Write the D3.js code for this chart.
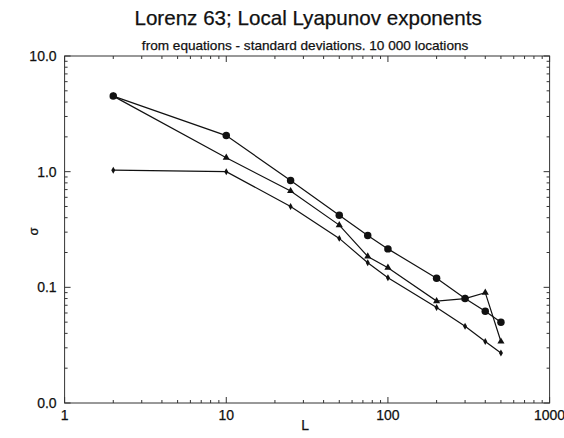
<!DOCTYPE html>
<html>
<head>
<meta charset="utf-8">
<script src="https://cdn.jsdelivr.net/npm/d3@7"></script>
<style>
  html, body { margin: 0; padding: 0; background: #fff; }
  svg text { font-family: "Liberation Sans", Arial, Helvetica, sans-serif; fill: #111; stroke: #111; stroke-width: 0.25; }
</style>
</head>
<body>
<svg id="chart" width="564" height="438"></svg>
<script>
// Window length L and standard deviation of local Lyapunov exponents
const L = [2, 10, 25, 50, 75, 100, 200, 300, 400, 500];
const sigmaCircle   = [4.5, 2.05, 0.84, 0.42, 0.28, 0.215, 0.12, 0.080, 0.062, 0.050];
const sigmaTriangle = [4.5, 1.32, 0.68, 0.345, 0.185, 0.148, 0.076, 0.080, 0.090, 0.034];
const sigmaDiamond  = [1.03, 1.0, 0.50, 0.265, 0.163, 0.121, 0.067, 0.046, 0.034, 0.027];

const xTickValues = [1, 10, 100, 1000];
const xTickLabels = ["1", "10", "100", "1000"];
const yTickValues = [0.01, 0.1, 1, 10];
const yTickLabels = ["0.0", "0.1", "1.0", "10.0"];

const svg = d3.select("#chart");
const m = { left: 64.6, right: 549.6, top: 56, bottom: 403 };

const x = d3.scaleLog().domain([1, 1000]).range([m.left, m.right]);
const y = d3.scaleLog().domain([0.01, 10]).range([m.bottom, m.top]);

// minor ticks 2..9 within each decade
function minorTicks(lo, hi) {
  const out = [];
  for (let e = Math.log10(lo); e < Math.log10(hi); e++) {
    for (let k = 2; k <= 9; k++) out.push(k * Math.pow(10, e));
  }
  return out;
}
const xMinor = minorTicks(1, 1000);
const yMinor = minorTicks(0.01, 10);

const frame = "#333";
svg.append("rect")
  .attr("x", m.left).attr("y", m.top)
  .attr("width", m.right - m.left).attr("height", m.bottom - m.top)
  .attr("fill", "none").attr("stroke", frame).attr("stroke-width", 1);

const tickG = svg.append("g").attr("stroke", frame).attr("stroke-width", 1);
function xTicks(vals, len) {
  vals.forEach(v => {
    tickG.append("line").attr("x1", x(v)).attr("x2", x(v)).attr("y1", m.bottom).attr("y2", m.bottom - len);
    tickG.append("line").attr("x1", x(v)).attr("x2", x(v)).attr("y1", m.top).attr("y2", m.top + len);
  });
}
function yTicks(vals, len) {
  vals.forEach(v => {
    tickG.append("line").attr("y1", y(v)).attr("y2", y(v)).attr("x1", m.left).attr("x2", m.left + len);
    tickG.append("line").attr("y1", y(v)).attr("y2", y(v)).attr("x1", m.right).attr("x2", m.right - len);
  });
}
xTicks(xMinor, 3); xTicks(xTickValues, 6);
yTicks(yMinor, 3); yTicks(yTickValues, 6);

// tick labels
svg.append("g").selectAll("text").data(xTickValues).join("text")
  .attr("x", d => x(d)).attr("y", m.bottom + 17)
  .attr("text-anchor", "middle").attr("font-size", 14)
  .text((d, i) => xTickLabels[i]);
svg.append("g").selectAll("text").data(yTickValues).join("text")
  .attr("x", m.left - 8).attr("y", d => y(d) + 5)
  .attr("text-anchor", "end").attr("font-size", 14)
  .text((d, i) => yTickLabels[i]);

// axis titles
svg.append("text").attr("x", (m.left + m.right) / 2 - 2).attr("y", 430)
  .attr("text-anchor", "middle").attr("font-size", 14).text("L");
svg.append("text")
  .attr("transform", `translate(38,${(m.top + m.bottom) / 2 + 2}) rotate(-90)`)
  .attr("text-anchor", "middle").attr("font-size", 13).text("σ");

// titles
svg.append("text").attr("x", (m.left + m.right) / 2 + 1).attr("y", 25)
  .attr("text-anchor", "middle").attr("font-size", 20.6).text("Lorenz 63; Local Lyapunov exponents");
svg.append("text").attr("x", (m.left + m.right) / 2 - 2).attr("y", 50)
  .attr("text-anchor", "middle").attr("font-size", 13.6)
  .text("from equations - standard deviations. 10 000 locations");

// series
const line = d3.line().x(d => x(d[0])).y(d => y(d[1]));
const series = [
  { vals: sigmaTriangle, sym: d3.symbolTriangle, size: 22 },
  { vals: sigmaDiamond,  sym: d3.symbolDiamond,  size: 14 },
  { vals: sigmaCircle,   sym: d3.symbolCircle,   size: 44 }
];
series.forEach(s => {
  const pts = L.map((l, i) => [l, s.vals[i]]);
  svg.append("path").datum(pts).attr("d", line)
    .attr("fill", "none").attr("stroke", "#111").attr("stroke-width", 1.2);
  svg.append("g").selectAll("path").data(pts).join("path")
    .attr("transform", d => `translate(${x(d[0])},${y(d[1])})`)
    .attr("d", d3.symbol().type(s.sym).size(s.size))
    .attr("fill", "#111");
});
</script>
</body>
</html>
